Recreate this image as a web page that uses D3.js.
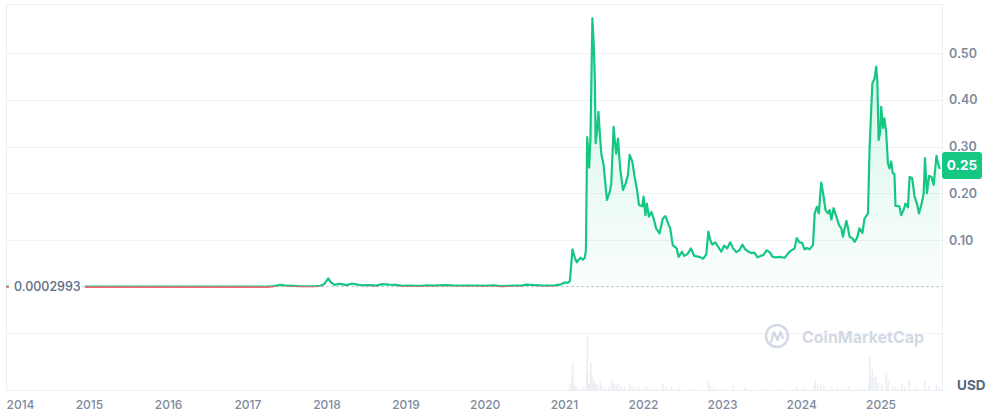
<!DOCTYPE html>
<html>
<head>
<meta charset="utf-8">
<script src="https://cdn.jsdelivr.net/npm/d3@7/dist/d3.min.js"></script>
<style>
  html, body { margin: 0; padding: 0; background: #ffffff; }
  svg { display: block; font-family: Inter, "Noto Sans", sans-serif; }
</style>
</head>
<body>
<svg id="chart" width="990" height="412"></svg>
<script>
// ---- data ----
const openPrice = 0.0002993;
const lastPriceLabel = 0.25;
const priceAxisTicks = [0.1, 0.2, 0.3, 0.4, 0.5];
const yearTicks = [2014, 2015, 2016, 2017, 2018, 2019, 2020, 2021, 2022, 2023, 2024, 2025];
const currency = "USD";

const prices = [
  ["2014-12-10", 0.0002993], ["2015-01-01", 0.00019], ["2015-02-01", 0.00018], ["2015-03-01", 0.00022],
  ["2015-04-01", 0.00012], ["2015-05-01", 0.00012], ["2015-06-01", 0.00014], ["2015-07-01", 0.00015],
  ["2015-08-01", 0.00016], ["2015-09-01", 0.00013], ["2015-10-01", 0.00014], ["2015-11-01", 0.00013],
  ["2015-12-01", 0.00016], ["2016-01-01", 0.00018], ["2016-02-01", 0.00024], ["2016-03-01", 0.00025],
  ["2016-04-01", 0.00024], ["2016-05-01", 0.00026], ["2016-06-01", 0.00036], ["2016-07-01", 0.00035],
  ["2016-08-01", 0.00027], ["2016-09-01", 0.00025], ["2016-10-01", 0.00023], ["2016-11-01", 0.00022],
  ["2016-12-01", 0.00022], ["2017-01-01", 0.00023], ["2017-02-01", 0.00022], ["2017-03-01", 0.00024],
  ["2017-04-01", 0.0004], ["2017-05-01", 0.0012], ["2017-06-01", 0.004], ["2017-07-01", 0.0022],
  ["2017-08-01", 0.0018], ["2017-09-01", 0.0011], ["2017-10-01", 0.0011], ["2017-11-01", 0.0011],
  ["2017-12-01", 0.0022], ["2017-12-20", 0.006], ["2018-01-07", 0.018], ["2018-01-20", 0.009],
  ["2018-02-05", 0.004], ["2018-02-20", 0.006], ["2018-03-10", 0.0055], ["2018-04-01", 0.0035],
  ["2018-04-25", 0.0065], ["2018-05-15", 0.0052], ["2018-06-10", 0.0032], ["2018-07-15", 0.0035],
  ["2018-08-15", 0.0024], ["2018-09-15", 0.0056], ["2018-10-15", 0.0046], ["2018-11-15", 0.0039],
  ["2018-12-15", 0.002], ["2019-01-15", 0.0022], ["2019-02-15", 0.0018], ["2019-03-15", 0.002],
  ["2019-04-05", 0.003], ["2019-05-01", 0.0025], ["2019-06-01", 0.0031], ["2019-07-01", 0.0036],
  ["2019-08-01", 0.0029], ["2019-09-01", 0.0026], ["2019-10-01", 0.0025], ["2019-11-01", 0.0026],
  ["2019-12-01", 0.0022], ["2020-01-01", 0.002], ["2020-02-10", 0.0031], ["2020-03-13", 0.0015],
  ["2020-04-15", 0.002], ["2020-05-15", 0.0025], ["2020-06-15", 0.0025], ["2020-07-10", 0.0045],
  ["2020-08-15", 0.0035], ["2020-09-15", 0.0028], ["2020-10-15", 0.0026], ["2020-11-18", 0.003],
  ["2020-12-11", 0.0045], ["2021-01-03", 0.009], ["2021-01-17", 0.009], ["2021-01-26", 0.012],
  ["2021-02-07", 0.08], ["2021-02-18", 0.062], ["2021-02-27", 0.052], ["2021-03-08", 0.058],
  ["2021-03-16", 0.062], ["2021-03-27", 0.058], ["2021-04-05", 0.062], ["2021-04-10", 0.078],
  ["2021-04-16", 0.32], ["2021-04-21", 0.29], ["2021-04-25", 0.255], ["2021-05-01", 0.315],
  ["2021-05-10", 0.574], ["2021-05-16", 0.52], ["2021-05-21", 0.45], ["2021-05-25", 0.307],
  ["2021-05-31", 0.33], ["2021-06-07", 0.374], ["2021-06-13", 0.33], ["2021-06-20", 0.285],
  ["2021-07-01", 0.26], ["2021-07-16", 0.186], ["2021-07-29", 0.203], ["2021-08-05", 0.22],
  ["2021-08-16", 0.342], ["2021-08-22", 0.31], ["2021-08-28", 0.285], ["2021-09-05", 0.317],
  ["2021-09-16", 0.25], ["2021-09-28", 0.207], ["2021-10-10", 0.22], ["2021-10-21", 0.239],
  ["2021-10-29", 0.282], ["2021-11-10", 0.268], ["2021-11-21", 0.235], ["2021-12-02", 0.207],
  ["2021-12-11", 0.175], ["2021-12-26", 0.172], ["2022-01-01", 0.193], ["2022-01-10", 0.153],
  ["2022-01-16", 0.178], ["2022-01-26", 0.15], ["2022-02-06", 0.16], ["2022-02-16", 0.147],
  ["2022-02-28", 0.125], ["2022-03-16", 0.114], ["2022-03-31", 0.146], ["2022-04-12", 0.151],
  ["2022-04-25", 0.135], ["2022-05-04", 0.125], ["2022-05-16", 0.089], ["2022-06-03", 0.082],
  ["2022-06-12", 0.064], ["2022-06-28", 0.075], ["2022-07-08", 0.066], ["2022-07-23", 0.07],
  ["2022-08-08", 0.082], ["2022-08-23", 0.066], ["2022-09-15", 0.064], ["2022-10-04", 0.06],
  ["2022-10-18", 0.07], ["2022-10-27", 0.118], ["2022-11-05", 0.1], ["2022-11-14", 0.09],
  ["2022-11-28", 0.095], ["2022-12-12", 0.085], ["2022-12-26", 0.075], ["2023-01-08", 0.088],
  ["2023-01-22", 0.082], ["2023-02-05", 0.095], ["2023-02-19", 0.082], ["2023-03-05", 0.074],
  ["2023-03-19", 0.078], ["2023-04-02", 0.09], ["2023-04-16", 0.08], ["2023-04-30", 0.075],
  ["2023-05-14", 0.072], ["2023-05-28", 0.073], ["2023-06-11", 0.063], ["2023-06-25", 0.066],
  ["2023-07-09", 0.068], ["2023-07-23", 0.078], ["2023-08-06", 0.074], ["2023-08-20", 0.064],
  ["2023-09-03", 0.063], ["2023-09-21", 0.064], ["2023-10-14", 0.062], ["2023-11-06", 0.075],
  ["2023-11-29", 0.082], ["2023-12-09", 0.104], ["2023-12-22", 0.095], ["2024-01-03", 0.094],
  ["2024-01-14", 0.08], ["2024-01-25", 0.083], ["2024-02-06", 0.08], ["2024-02-22", 0.089],
  ["2024-03-01", 0.157], ["2024-03-11", 0.171], ["2024-03-20", 0.157], ["2024-03-31", 0.223],
  ["2024-04-11", 0.193], ["2024-04-20", 0.164], ["2024-05-01", 0.157], ["2024-05-09", 0.164],
  ["2024-05-17", 0.144], ["2024-05-27", 0.168], ["2024-06-09", 0.15], ["2024-06-21", 0.132],
  ["2024-07-02", 0.125], ["2024-07-09", 0.107], ["2024-07-25", 0.141], ["2024-08-01", 0.128],
  ["2024-08-09", 0.107], ["2024-08-21", 0.104], ["2024-09-01", 0.096], ["2024-09-12", 0.104],
  ["2024-09-24", 0.125], ["2024-10-07", 0.115], ["2024-10-17", 0.146], ["2024-11-02", 0.157],
  ["2024-11-09", 0.293], ["2024-11-22", 0.435], ["2024-12-02", 0.445], ["2024-12-10", 0.471],
  ["2024-12-15", 0.44], ["2024-12-21", 0.314], ["2024-12-28", 0.33], ["2025-01-02", 0.385],
  ["2025-01-10", 0.34], ["2025-01-17", 0.36], ["2025-01-25", 0.33], ["2025-02-02", 0.264],
  ["2025-02-09", 0.253], ["2025-02-17", 0.268], ["2025-02-24", 0.243], ["2025-03-04", 0.241],
  ["2025-03-09", 0.173], ["2025-03-27", 0.172], ["2025-04-04", 0.153], ["2025-04-15", 0.164],
  ["2025-04-24", 0.178], ["2025-05-05", 0.17], ["2025-05-13", 0.235], ["2025-05-25", 0.232],
  ["2025-06-05", 0.193], ["2025-06-16", 0.178], ["2025-06-25", 0.157], ["2025-07-06", 0.175],
  ["2025-07-17", 0.2], ["2025-07-23", 0.275], ["2025-08-01", 0.2], ["2025-08-11", 0.237],
  ["2025-08-22", 0.235], ["2025-09-01", 0.218], ["2025-09-14", 0.28], ["2025-09-21", 0.265],
  ["2025-09-29", 0.252]
];

// volume in billions USD
const volumes = [
  ["2020-12-20", 0.5], ["2021-01-28", 8], ["2021-02-05", 20], ["2021-02-08", 36], ["2021-02-12", 10],
  ["2021-02-20", 6], ["2021-03-01", 4], ["2021-03-15", 3], ["2021-04-01", 5], ["2021-04-14", 25],
  ["2021-04-17", 69], ["2021-04-20", 12], ["2021-04-25", 8], ["2021-05-03", 36], ["2021-05-07", 22],
  ["2021-05-10", 16], ["2021-05-14", 9], ["2021-05-20", 11], ["2021-05-25", 8], ["2021-06-02", 7],
  ["2021-06-15", 11], ["2021-06-25", 5], ["2021-07-10", 4], ["2021-07-25", 5], ["2021-08-08", 13],
  ["2021-08-16", 10], ["2021-08-28", 6], ["2021-09-07", 9], ["2021-09-20", 5], ["2021-10-05", 5],
  ["2021-10-28", 10], ["2021-11-10", 6], ["2021-11-25", 4], ["2021-12-10", 4], ["2022-01-01", 3],
  ["2022-01-15", 5], ["2022-02-01", 3], ["2022-03-01", 2], ["2022-04-01", 9], ["2022-04-15", 4],
  ["2022-05-10", 5], ["2022-06-15", 3], ["2022-08-15", 2], ["2022-10-28", 11], ["2022-11-05", 7],
  ["2022-11-20", 3], ["2023-01-15", 2], ["2023-02-20", 8], ["2023-04-15", 3], ["2023-07-15", 2],
  ["2023-10-01", 2], ["2023-12-10", 4], ["2024-01-15", 3], ["2024-02-28", 6], ["2024-03-05", 13],
  ["2024-03-15", 8], ["2024-03-30", 9], ["2024-04-12", 6], ["2024-05-20", 4], ["2024-06-15", 3],
  ["2024-07-20", 3], ["2024-08-05", 5], ["2024-09-15", 2], ["2024-10-15", 3], ["2024-11-05", 8],
  ["2024-11-10", 43], ["2024-11-14", 20], ["2024-11-22", 27], ["2024-12-02", 16], ["2024-12-10", 18],
  ["2024-12-20", 10], ["2025-01-05", 8], ["2025-01-25", 23], ["2025-02-03", 12], ["2025-02-25", 5],
  ["2025-03-10", 4], ["2025-04-07", 10], ["2025-04-22", 4], ["2025-05-12", 13], ["2025-06-10", 3],
  ["2025-07-22", 12], ["2025-08-10", 6], ["2025-09-14", 8], ["2025-09-25", 4]
];

(function () {
// ---- drawing ----
const parse = d3.utcParse("%Y-%m-%d");
const priceData = prices.map(([d, v]) => ({ date: parse(d), value: v }));
const volData = volumes.map(([d, v]) => ({ date: parse(d), value: v }));

const svg = d3.select("#chart");
const pLeft = 6.5, pRight = 942.5, pTop = 4.5, pBottom = 390.5, volTop = 333.5;
const green = "#16c784", red = "#ea3943";

const x = d3.scaleUtc()
  .domain([Date.UTC(2015, 0, 1), Date.UTC(2025, 0, 1)])
  .range([89.5, 881]);
const y = d3.scaleLinear().domain([0, 0.6]).range([286.75, 286.75 - 0.6 * 467.5]);
const yv = d3.scaleLinear().domain([0, 70]).range([pBottom, 336]);

const defs = svg.append("defs");
const baseY = y(openPrice);
defs.append("clipPath").attr("id", "clipAbove")
  .append("rect").attr("x", pLeft).attr("y", pTop).attr("width", pRight - pLeft).attr("height", baseY - pTop);
defs.append("clipPath").attr("id", "clipBelow")
  .append("rect").attr("x", pLeft).attr("y", baseY).attr("width", pRight - pLeft).attr("height", volTop - baseY);

const gGreen = defs.append("linearGradient").attr("id", "gradGreen")
  .attr("gradientUnits", "userSpaceOnUse").attr("x1", 0).attr("x2", 0).attr("y1", y(0.574)).attr("y2", baseY);
gGreen.append("stop").attr("offset", "0%").attr("stop-color", green).attr("stop-opacity", 0.2);
gGreen.append("stop").attr("offset", "100%").attr("stop-color", green).attr("stop-opacity", 0.02);

// grid
const grid = svg.append("g").attr("stroke", "#eff2f5").attr("stroke-width", 1).attr("fill", "none");
grid.append("rect").attr("x", pLeft).attr("y", pTop).attr("width", pRight - pLeft).attr("height", pBottom - pTop)
  .attr("stroke", "#eceff3");
grid.selectAll("line.yg").data(priceAxisTicks).join("line")
  .attr("x1", pLeft).attr("x2", pRight)
  .attr("y1", d => Math.round(y(d)) + 0.5).attr("y2", d => Math.round(y(d)) + 0.5);
grid.append("line").attr("x1", pLeft).attr("x2", pRight).attr("y1", volTop).attr("y2", volTop);

// volume bars
svg.append("g").selectAll("rect").data(volData).join("rect")
  .attr("x", d => x(d.date) - 0.75).attr("width", 1.5)
  .attr("y", d => yv(d.value)).attr("height", d => pBottom - yv(d.value))
  .attr("fill", "#eaedf1");

// watermark
const wm = svg.append("g");
wm.append("circle").attr("cx", 777).attr("cy", 336).attr("r", 11)
  .attr("fill", "none").attr("stroke", "#d3d9e4").attr("stroke-width", 2.4);
wm.append("path")
  .attr("d", "M771,342 L774,332 L777.5,340 L780.5,332 L783,338")
  .attr("fill", "none").attr("stroke", "#d3d9e4").attr("stroke-width", 2.2)
  .attr("stroke-linecap", "round").attr("stroke-linejoin", "round");
wm.append("text").attr("x", 802).attr("y", 342.5).text("CoinMarketCap")
  .attr("font-size", 16.3).attr("font-weight", 700).attr("fill", "#d3d9e4")
  .attr("textLength", 122).attr("lengthAdjust", "spacingAndGlyphs");

// area + line
const area = d3.area().x(d => x(d.date)).y0(baseY).y1(d => y(d.value));
const line = d3.line().x(d => x(d.date)).y(d => y(d.value));

svg.append("path").datum(priceData).attr("d", area)
  .attr("fill", "url(#gradGreen)").attr("clip-path", "url(#clipAbove)");
svg.append("path").datum(priceData).attr("d", area)
  .attr("fill", red).attr("fill-opacity", 0.08).attr("clip-path", "url(#clipBelow)");

// baseline (open price) dotted
svg.append("line").attr("x1", pLeft).attr("x2", pRight).attr("y1", baseY).attr("y2", baseY)
  .attr("stroke", "#a6b0c3").attr("stroke-width", 1).attr("stroke-dasharray", "2,3");

svg.append("path").datum(priceData).attr("d", line)
  .attr("fill", "none").attr("stroke", green).attr("stroke-width", 2.2)
  .attr("stroke-linejoin", "round").attr("clip-path", "url(#clipAbove)");
svg.append("path").datum(priceData).attr("d", line)
  .attr("fill", "none").attr("stroke", red).attr("stroke-width", 2.2)
  .attr("stroke-linejoin", "round").attr("clip-path", "url(#clipBelow)");

// open price label on left
svg.append("rect").attr("x", 9).attr("y", baseY - 8).attr("width", 73).attr("height", 16).attr("fill", "#fff");
svg.append("line").attr("x1", 6).attr("x2", 9).attr("y1", baseY - 0.5).attr("y2", baseY - 0.5).attr("stroke", green).attr("stroke-width", 1);
svg.append("line").attr("x1", 6).attr("x2", 9).attr("y1", baseY + 0.5).attr("y2", baseY + 0.5).attr("stroke", red).attr("stroke-width", 1);
svg.append("text").attr("x", 14).attr("y", baseY + 4.5)
  .text(String(openPrice))
  .attr("font-size", 12.5).attr("font-weight", 500).attr("fill", "#616e85");

// right axis labels
const yAxis = d3.axisRight(y).tickValues(priceAxisTicks).tickFormat(d3.format(".2f")).tickSize(0).tickPadding(0);
const ga = svg.append("g").attr("transform", "translate(949,0)").call(yAxis);
ga.select(".domain").remove();
ga.selectAll("text").attr("font-size", 12.5).attr("font-weight", 600).attr("fill", "#808a9d")
  .attr("font-family", "Inter, sans-serif");

// USD
svg.append("text").attr("x", 957).attr("y", 390).text(currency)
  .attr("font-size", 13.5).attr("font-weight", 700).attr("fill", "#58667e");

// x axis year labels
const xLab = svg.append("g");
yearTicks.forEach(yr => {
  const px = x(Date.UTC(yr, 0, 1));
  const t = xLab.append("text").attr("y", 409).text(String(yr))
    .attr("font-size", 12).attr("font-weight", 500).attr("fill", "#808a9d");
  const w = t.node().getComputedTextLength();
  const cx = Math.max(px, pLeft + w / 2);
  t.attr("x", cx).attr("text-anchor", "middle");
});

// last price tag
const last = priceData[priceData.length - 1];
const ty = y(last.value) - 4;
svg.append("rect").attr("x", 942).attr("y", ty - 13).attr("width", 40).attr("height", 27).attr("rx", 3)
  .attr("fill", green);
svg.append("text").attr("x", 962).attr("y", ty + 5).attr("text-anchor", "middle")
  .text(d3.format(".2f")(lastPriceLabel))
  .attr("font-size", 13.5).attr("font-weight", 700).attr("fill", "#ffffff");
})();
</script>
</body>
</html>
